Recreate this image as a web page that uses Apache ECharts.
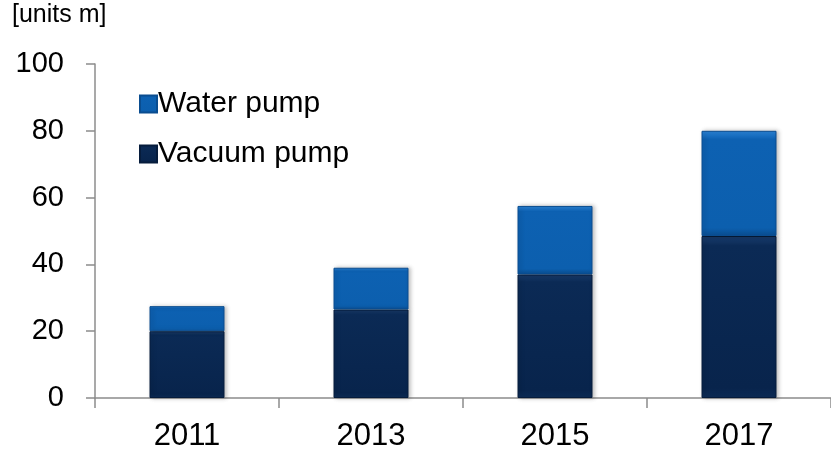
<!DOCTYPE html>
<html>
<head>
<meta charset="utf-8">
<script src="https://cdn.jsdelivr.net/npm/echarts@6/dist/echarts.min.js"></script>
<style>
  html, body { margin: 0; padding: 0; background: #fff; }
  #chart { width: 831px; height: 452px; }
</style>
</head>
<body>
<div id="chart"></div>
<script>
// 年份
var years = ['2011', '2013', '2015', '2017'];
// 真空泵 / 水泵 (units m)
var vacuumPump = [20, 26.5, 37, 48.5];
var waterPump = [7.5, 12.5, 20.5, 31.5];
// y轴刻度
var yTicks = [0, 20, 40, 60, 80, 100];

var chart = echarts.init(document.getElementById('chart'));

var font = 'Liberation Sans, Arial, sans-serif';

var option = {
  animation: false,
  backgroundColor: '#fff',
  graphic: [
    {
      type: 'text',
      left: 12,
      top: 3,
      style: { text: '[units m]', font: '25px ' + font, fill: '#000' }
    }
  ],
  legend: {
    data: ['Water pump', 'Vacuum pump'],
    orient: 'vertical',
    left: 134,
    top: 84,
    itemWidth: 17,
    itemHeight: 17,
    itemGap: 20,
    icon: 'rect',
    textStyle: { fontSize: 30, fontFamily: font, color: '#000', padding: [0, 0, 0, -4] }
  },
  grid: {
    left: 95,
    top: 64,
    width: 744,
    height: 336
  },
  xAxis: {
    type: 'category',
    data: years,
    axisLine: { lineStyle: { color: '#8c8c8c', width: 1.5 } },
    axisTick: { show: true, length: 10, lineStyle: { color: '#8c8c8c', width: 1.5 } },
    axisLabel: { fontSize: 31, fontFamily: font, color: '#000', margin: 23 }
  },
  yAxis: {
    type: 'value',
    min: yTicks[0],
    max: yTicks[yTicks.length - 1],
    interval: 20,
    splitLine: { show: false },
    axisLine: { show: true, lineStyle: { color: '#8c8c8c', width: 1.5 } },
    axisTick: { show: true, length: 9, lineStyle: { color: '#8c8c8c', width: 1.5 } },
    axisLabel: { fontSize: 29, fontFamily: font, color: '#000', margin: 31 }
  },
  series: [
    {
      name: 'Vacuum pump',
      type: 'bar',
      stack: 'total',
      barWidth: 75,
      data: vacuumPump,
      itemStyle: {
        color: new echarts.graphic.LinearGradient(0, 0, 0, 1, [
          { offset: 0, color: '#1b3f70' },
          { offset: 0.06, color: '#0b2a55' },
          { offset: 0.94, color: '#08244c' },
          { offset: 1, color: '#0d2d58' }
        ]),
        borderColor: '#061c3c',
        borderWidth: 1,
        shadowColor: 'rgba(0,0,0,0.25)',
        shadowBlur: 4,
        shadowOffsetX: 2
      }
    },
    {
      name: 'Water pump',
      type: 'bar',
      stack: 'total',
      barWidth: 75,
      data: waterPump,
      itemStyle: {
        color: new echarts.graphic.LinearGradient(0, 0, 0, 1, [
          { offset: 0, color: '#2b84d8' },
          { offset: 0.08, color: '#0d61b2' },
          { offset: 0.92, color: '#0c5fae' },
          { offset: 1, color: '#0a4f94' }
        ]),
        borderColor: '#0a4d90',
        borderWidth: 1,
        shadowColor: 'rgba(0,0,0,0.25)',
        shadowBlur: 4,
        shadowOffsetX: 2
      }
    }
  ]
};

chart.setOption(option);
</script>
</body>
</html>
